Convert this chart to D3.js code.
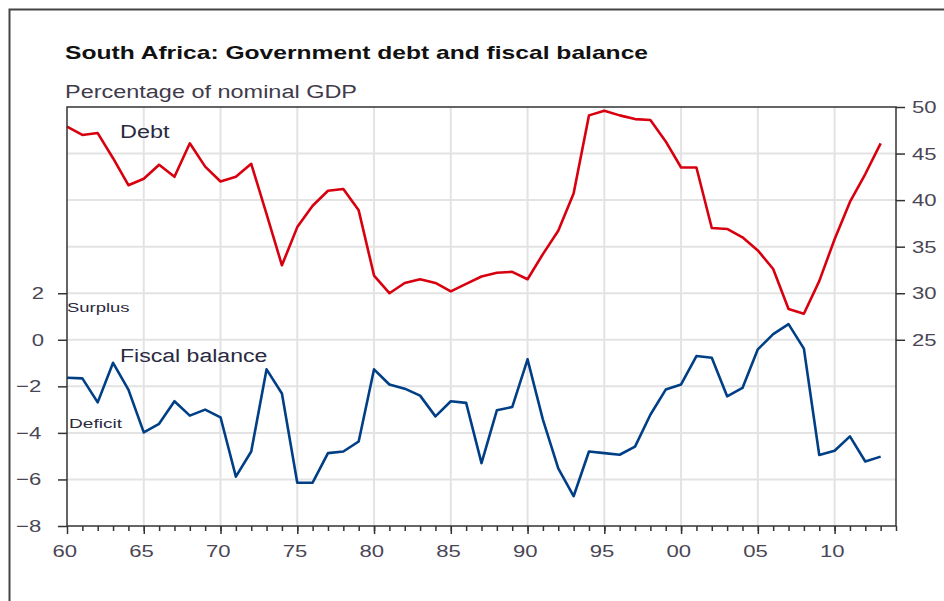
<!DOCTYPE html>
<html>
<head>
<meta charset="utf-8">
<script src="https://cdn.jsdelivr.net/npm/d3@7"></script>
<style>
  body { margin: 0; background: #fff; }
  text { font-family: "Liberation Sans", Arial, sans-serif; }
</style>
</head>
<body>
<div class="container"></div>
<script>
const w = 944
const h = 601
const m = { left: 67, right: 896, top: 107, bottom: 526 }

// data, percentage of nominal GDP
const years = d3.range(1960, 2014)
const debt = [47.9, 47.0, 47.2, 44.5, 41.6, 42.3, 43.8, 42.5, 46.1, 43.6,
    42.0, 42.5, 43.9, 38.5, 33.0, 37.1, 39.4, 41.0, 41.2, 38.9,
    31.9, 30.0, 31.1, 31.5, 31.1, 30.2, 31.0, 31.8, 32.2, 32.3,
    31.5, 34.2, 36.7, 40.7, 49.1, 49.6, 49.1, 48.7, 48.6, 46.3,
    43.5, 43.5, 37.0, 36.9, 36.0, 34.6, 32.6, 28.3, 27.8, 31.3,
    35.8, 39.8, 42.8, 46.1]
const balance = [-1.63, -1.66, -2.69, -0.99, -2.14, -3.98, -3.61, -2.64, -3.26, -3.0,
    -3.33, -5.88, -4.8, -1.27, -2.31, -6.14, -6.14, -4.87, -4.8, -4.37,
    -1.27, -1.92, -2.1, -2.4, -3.29, -2.64, -2.71, -5.3, -3.03, -2.89,
    -0.84, -3.43, -5.52, -6.72, -4.8, -4.87, -4.94, -4.59, -3.22, -2.14,
    -1.92, -0.7, -0.77, -2.43, -2.07, -0.41, 0.24, 0.67, -0.38, -4.95,
    -4.77, -4.15, -5.23, -5.02]
const xTicks = [1960, 1965, 1970, 1975, 1980, 1985, 1990, 1995, 2000, 2005, 2010]
const leftTicks = [-8, -6, -4, -2, 0, 2]
const rightTicks = [25, 30, 35, 40, 45, 50]
const gridTicks = [-6, -4, -2, 0, 2, 4, 6, 8]

// the source picture is stretched sideways, so text gets widened too
// (keep the anchor in place: chrome grows the text to the right)
const stretch = (sel, k) => sel.each(function () {
    const len = this.getComputedTextLength()
    const anchor = getComputedStyle(this).textAnchor
    const shift = anchor === 'middle' ? -(k - 1) * len / 2 : anchor === 'end' ? -(k - 1) * len : 0
    const x0 = +(this.getAttribute('x') || 0)
    d3.select(this)
        .attr('textLength', len * k)
        .attr('lengthAdjust', 'spacingAndGlyphs')
        .attr('x', x0 + shift)
})

const svg = d3.select('.container')
    .append('svg')
    .attr('width', w)
    .attr('height', h)

// outer frame (left and top edges show)
svg.append('path')
    .attr('d', `M9.5,${h} V9.5 H${w}`)
    .attr('fill', 'none')
    .attr('stroke', '#444')
    .attr('stroke-width', 2)

const xScale = d3.scaleLinear().domain([1960, 2014]).range([m.left, m.right])
const yLeft = d3.scaleLinear().domain([-8, 10]).range([m.bottom, m.top])
const yRight = d3.scaleLinear().domain([5, 50]).range([m.bottom, m.top])

// grid
const grid = svg.append('g')
grid.selectAll('.vg')
    .data(xTicks.slice(1))
    .enter()
    .append('line')
    .attr('x1', d => xScale(d)).attr('x2', d => xScale(d))
    .attr('y1', m.top).attr('y2', m.bottom)
    .attr('stroke', '#e3e3e3')
    .attr('stroke-width', 2)
grid.selectAll('.hg')
    .data(gridTicks)
    .enter()
    .append('line')
    .attr('x1', m.left).attr('x2', m.right)
    .attr('y1', d => yLeft(d)).attr('y2', d => yLeft(d))
    .attr('stroke', '#e3e3e3')
    .attr('stroke-width', 2)

// lines
const debtLine = d3.line()
    .x((d, i) => xScale(years[i]))
    .y(d => yRight(d))
const balLine = d3.line()
    .x((d, i) => xScale(years[i]))
    .y(d => yLeft(d))

svg.append('path')
    .datum(debt)
    .attr('d', debtLine)
    .attr('fill', 'none')
    .attr('stroke', '#d8000f')
    .attr('stroke-width', 2.6)
    .attr('stroke-linejoin', 'round')

svg.append('path')
    .datum(balance)
    .attr('d', balLine)
    .attr('fill', 'none')
    .attr('stroke', '#003f86')
    .attr('stroke-width', 2.6)
    .attr('stroke-linejoin', 'round')

// plot box
svg.append('rect')
    .attr('x', m.left).attr('y', m.top)
    .attr('width', m.right - m.left).attr('height', m.bottom - m.top)
    .attr('fill', 'none')
    .attr('stroke', '#333')
    .attr('stroke-width', 1.5)

// axes
const styleAxis = g => {
    g.select('.domain').remove()
    g.selectAll('.tick line').attr('stroke', '#333').attr('stroke-width', 1.5)
    g.selectAll('.tick text')
        .attr('fill', '#4a4654')
        .style('font-size', '17px')
        .style('font-family', '"Liberation Sans", Arial, sans-serif')
        .call(stretch, 1.3)
}

svg.append('g')
    .attr('transform', `translate(0, ${m.bottom})`)
    .call(d3.axisBottom(xScale).tickValues(d3.range(1961, 2015)).tickSize(5).tickFormat(''))
    .call(styleAxis)

svg.append('g')
    .attr('transform', `translate(0, ${m.bottom})`)
    .call(d3.axisBottom(xScale).tickValues(xTicks).tickSize(8).tickPadding(11)
        .tickFormat(d => String(d).slice(2)))
    .call(styleAxis)

svg.append('g')
    .attr('transform', `translate(${m.left}, 0)`)
    .call(d3.axisLeft(yLeft).tickValues(leftTicks).tickSize(9).tickPadding(11).tickFormat(d3.format('d')))
    .call(styleAxis)

svg.append('g')
    .attr('transform', `translate(${m.right}, 0)`)
    .call(d3.axisRight(yRight).tickValues(rightTicks).tickSize(9).tickPadding(7))
    .call(styleAxis)

// titles
svg.append('text')
    .text('South Africa: Government debt and fiscal balance')
    .attr('x', 65).attr('y', 59)
    .attr('font-weight', 'bold')
    .attr('font-size', 19)
    .attr('fill', '#111')
    .attr('textLength', 583)
    .attr('lengthAdjust', 'spacingAndGlyphs')

svg.append('text')
    .text('Percentage of nominal GDP')
    .attr('x', 65).attr('y', 98)
    .attr('font-size', 18)
    .attr('fill', '#3f3b4a')
    .attr('textLength', 292)
    .attr('lengthAdjust', 'spacingAndGlyphs')

// labels
const label = (t, x, y, size, k) => svg.append('text')
    .text(t).attr('x', x).attr('y', y)
    .attr('font-size', size)
    .attr('fill', '#2a2a40')
    .call(stretch, k)

label('Debt', 120, 138, 18, 1.3)
label('Fiscal balance', 120, 362, 18, 1.28)
label('Surplus', 67, 312, 13, 1.42)
label('Deficit', 69, 428, 13, 1.47)
</script>
</body>
</html>
